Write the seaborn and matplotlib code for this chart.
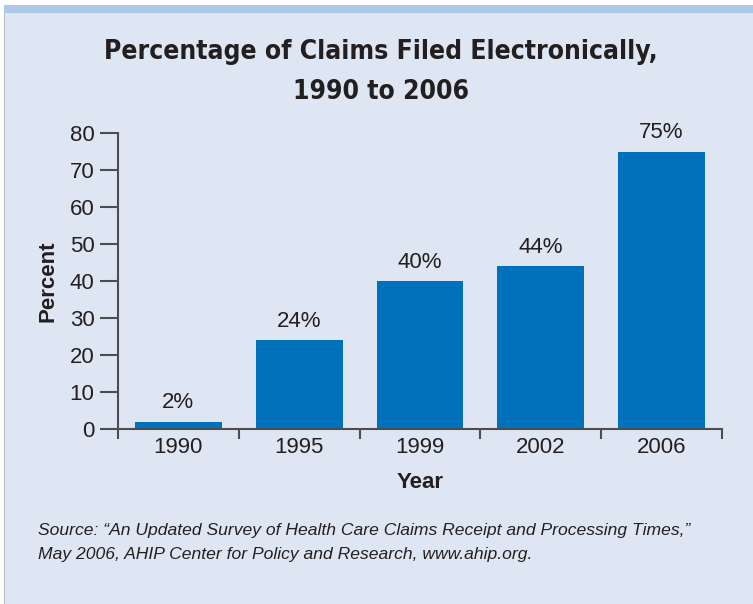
import matplotlib
matplotlib.use("Agg")
import matplotlib.pyplot as plt
from matplotlib import font_manager
from matplotlib.patches import Rectangle
import seaborn as sns
import pandas as pd

years = ["1990", "1995", "1999", "2002", "2006"]
percent = [2, 24, 40, 44, 75]
value_labels = ["2%", "24%", "40%", "44%", "75%"]
y_ticks = [0, 10, 20, 30, 40, 50, 60, 70, 80]

title = "Percentage of Claims Filed Electronically,\n1990 to 2006"
source = ("Source: \u201cAn Updated Survey of Health Care Claims Receipt and Processing Times,\u201d\n"
          "May 2006, AHIP Center for Policy and Research, www.ahip.org.")

sns.set_style("ticks")
plt.rcParams["font.family"] = ["Liberation Sans", "DejaVu Sans"]

condensed = [f for f in font_manager.fontManager.ttflist
             if f.name == "DejaVu Sans" and "ondensed" in str(f.stretch) + f.fname]

BG = "#DFE6F3"
BAR = "#0072BC"
TXT = "#231F20"
AX = "#4D4D4F"

df = pd.DataFrame({"Year": years, "Percent": percent})

fig = plt.figure(figsize=(7.53, 6.04), dpi=100)
fig.patch.set_facecolor(BG)
fig.patches.append(Rectangle((0, 1 - 5 / 604), 1, 5 / 604, transform=fig.transFigure,
                             facecolor="white", edgecolor="none", zorder=0))
fig.patches.append(Rectangle((0, 1 - 13 / 604), 1, 8 / 604, transform=fig.transFigure,
                             facecolor="#AEC9E8", edgecolor="none", zorder=0))
fig.patches.append(Rectangle((0, 0), 3.5 / 753, 1 - 5 / 604, transform=fig.transFigure,
                             facecolor="white", edgecolor="none", zorder=0))
fig.patches.append(Rectangle((3.5 / 753, 0), 1.5 / 753, 1 - 13 / 604, transform=fig.transFigure,
                             facecolor="#B9BCC2", edgecolor="none", zorder=0))

ax = fig.add_axes([118 / 753, 1 - 429 / 604, (722 - 118) / 753, (429 - 133) / 604])
ax.set_facecolor(BG)
sns.barplot(data=df, x="Year", y="Percent", color=BAR, width=0.72, saturation=1,
            linewidth=0, ax=ax)

ax.set_xlim(-0.5, len(years) - 0.5)
ax.set_ylim(0, 80)
ax.set_yticks(y_ticks)
ax.set_yticklabels([str(t) for t in y_ticks], fontsize=16, color=TXT)
ax.set_xticks([i - 0.5 for i in range(len(years) + 1)], minor=False)
ax.set_xticklabels([""] * (len(years) + 1))
ax.set_xticks(range(len(years)), minor=True)
ax.set_xticklabels(years, minor=True, fontsize=16, color=TXT)
ax.tick_params(axis="x", which="major", length=7, width=1.5, color=AX, direction="out")
ax.tick_params(axis="x", which="minor", length=0, pad=6)
ax.tick_params(axis="y", length=13, width=1.5, color=AX, direction="out", pad=4)

for s in ["top", "right"]:
    ax.spines[s].set_visible(False)
for s in ["left", "bottom"]:
    ax.spines[s].set_color(AX)
    ax.spines[s].set_linewidth(1.5)

for p, lab in zip(ax.patches, value_labels):
    ax.annotate(lab, (p.get_x() + p.get_width() / 2, p.get_height()),
                xytext=(0, 6), textcoords="offset points", ha="center", va="bottom",
                fontsize=16, color=TXT)

ax.set_xlabel("Year", fontsize=16, fontweight="bold", color=TXT, labelpad=10)
ax.set_ylabel("Percent", fontsize=16, fontweight="bold", color=TXT, labelpad=8)

if condensed:
    fig.text(381 / 753, 1 - 72 / 604, title, ha="center", va="center", fontsize=19,
             fontweight="bold", fontstretch="condensed", family=["DejaVu Sans"],
             color=TXT, linespacing=1.7)
else:
    fig.text(381 / 753, 1 - 72 / 604, title, ha="center", va="center", fontsize=20,
             fontweight="bold", color=TXT, linespacing=1.6)
fig.text(38 / 753, 1 - 543 / 604, source, ha="left", va="center", fontsize=12.6,
         style="italic", color=TXT, linespacing=1.75)

fig.savefig("out.png", dpi=100, facecolor=BG)
